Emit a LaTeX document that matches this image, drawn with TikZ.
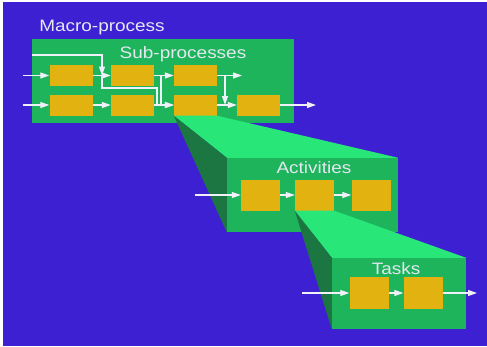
\documentclass[tikz,border=0pt]{standalone}
\usepackage{fontspec}
\newfontfamily\lblfont[FakeStretch=1.15]{Liberation Sans}
\usetikzlibrary{arrows.meta}
\definecolor{bgblue}{RGB}{60,32,210}
\definecolor{panelgreen}{RGB}{30,180,92}
\definecolor{lightface}{RGB}{40,230,120}
\definecolor{darkface}{RGB}{28,118,66}
\definecolor{boxyellow}{RGB}{226,178,16}
\definecolor{linewhite}{RGB}{240,240,250}
\definecolor{textwhite}{RGB}{228,232,240}
\tikzset{
  panel/.style={fill=panelgreen, inner sep=0pt},
  ybox/.style={fill=boxyellow, inner sep=0pt},
  subbox/.style={ybox, minimum width=43pt, minimum height=21pt},
  actbox/.style={ybox, minimum width=39pt, minimum height=31pt},
  taskbox/.style={ybox, minimum width=39pt, minimum height=32pt},
  lbl/.style={text=textwhite, font=\lblfont\fontsize{16.5}{19}\selectfont, inner sep=0pt, anchor=base},
  flow/.style={draw=linewhite, line width=1.2pt, -{Triangle[length=9pt,width=6pt]}},
  wire/.style={draw=linewhite, line width=1.2pt}
}
\begin{document}
\begin{tikzpicture}[x=1pt,y=-1pt]
\useasboundingbox (0,0) rectangle (487,346);
\fill[white] (0,0) rectangle (487,346);
\fill[bgblue] (3,2) rectangle (487,346);

\node[panel, minimum width=262pt, minimum height=84pt] (macro) at (163,81) {};
\node[subbox] (b1) at (71,75.5) {};
\node[subbox] (b2) at (132.5,75.5) {};
\node[subbox] (b3) at (195.5,75.5) {};
\node[subbox] (b4) at (71,105) {};
\node[subbox] (b5) at (132.5,105) {};
\node[subbox] (b6) at (195.5,105) {};
\node[subbox] (b7) at (258.5,105) {};

\node[panel, minimum width=171pt, minimum height=74pt] (actpanel) at (312.5,195) {};
\fill[lightface] (b6.south west) -- (b6.south east) -- (actpanel.north east) -- (actpanel.north west) -- cycle;
\fill[darkface] (b6.south west) -- (actpanel.north west) -- (actpanel.south west) -- cycle;
\node[actbox] (a1) at (260.5,195) {};
\node[actbox] (a2) at (314.5,195) {};
\node[actbox] (a3) at (371,195) {};

\node[panel, minimum width=134pt, minimum height=71pt] (taskpanel) at (399,293.5) {};
\fill[lightface] (a2.south west) -- (a2.south east) -- (taskpanel.north east) -- (taskpanel.north west) -- cycle;
\fill[darkface] (a2.south west) -- (taskpanel.north west) -- (taskpanel.south west) -- cycle;
\node[taskbox] (t1) at (369,293) {};
\node[taskbox] (t2) at (423,293) {};

\coordinate (in1) at (23,75.5);
\coordinate (in2) at (23,105);
\coordinate (feed) at (32,55);
\coordinate (j1) at (102,75.5);
\coordinate (bend1) at (157,88);
\coordinate (j2) at (161,75.5);
\coordinate (j3) at (225,75.5);
\coordinate (out1) at (242,75.5);
\coordinate (out2) at (316,105);
\coordinate (ain) at (195,195);
\coordinate (tin) at (302,293);
\coordinate (tout) at (477,293);

\draw[flow] (in1) -- (b1);
\draw[flow] (in2) -- (b4);
\draw[flow] (feed) -| (j1);
\draw[flow] (b1) -- (b2);
\draw[flow] (j1) |- (bend1) |- (b6.west);
\draw[flow] (b4) -- (b5);
\draw[flow] (b5) -- (b6);
\draw[flow] (b2) -- (b3);
\draw[wire] (j2) -- (j2 |- b6.west);
\draw[flow] (b3) -- (out1);
\draw[flow] (j3) -- (j3 |- b7.west);
\draw[flow] (b6) -- (b7);
\draw[flow] (b7) -- (out2);
\draw[flow] (ain) -- (a1);
\draw[flow] (a1) -- (a2);
\draw[flow] (a2) -- (a3);
\draw[flow] (tin) -- (t1);
\draw[flow] (t1) -- (t2);
\draw[flow] (t2) -- (tout);

\node[lbl] (macrolbl) at (102,31) {Macro-process};
\node[lbl] (sublbl) at (183,58) {Sub-processes};
\node[lbl] (actlbl) at (314,173) {Activities};
\node[lbl] (tasklbl) at (396,274) {Tasks};
\end{tikzpicture}
\end{document}
